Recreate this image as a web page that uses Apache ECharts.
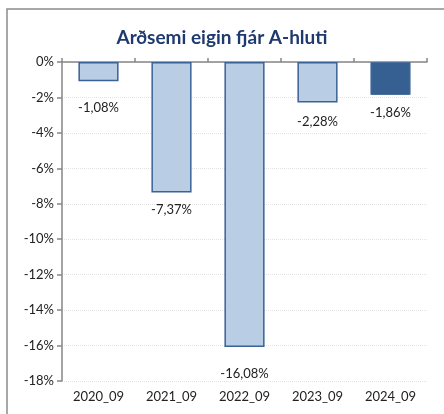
<!DOCTYPE html>
<html>
<head>
<meta charset="utf-8">
<script src="https://cdn.jsdelivr.net/npm/echarts@6/dist/echarts.min.js"></script>
<style>
  html, body { margin: 0; padding: 0; background: #fff; }
  #chart { width: 444px; height: 414px; }
</style>
</head>
<body>
<div id="chart"></div>
<script>
const categories = ["2020_09", "2021_09", "2022_09", "2023_09", "2024_09"];
const values = [-1.08, -7.37, -16.08, -2.28, -1.86];
const highlight = [false, false, false, false, true];
// per-bar gap between bar end and its value label, as placed in the original
const labelGap = [20, 11, 20, 13, 11];

const font = "Lato, 'Open Sans', sans-serif";

const chart = echarts.init(document.getElementById("chart"));
const option = {
  animation: false,
  textStyle: { fontFamily: font },
  title: {
    text: "Arðsemi eigin fjár A-hluti",
    left: "center",
    top: 23,
    textStyle: { color: "#1F3A6E", fontSize: 19, fontWeight: "bold", fontFamily: font },
  },
  graphic: [
    {
      type: "rect",
      shape: { x: 7, y: 9, width: 445, height: 420 },
      style: { fill: "none", stroke: "#8c8c8c", lineWidth: 1.5 },
      silent: true,
    },
  ],
  grid: { left: 62, right: 17, top: 62, bottom: 33 },
  xAxis: [
    {
      type: "category",
      data: categories,
      position: "bottom",
      axisLine: { show: false },
      axisTick: { show: false },
      axisLabel: { color: "#222", fontSize: 13, margin: 9 },
    },
    {
      type: "category",
      data: categories,
      position: "top",
      axisLine: { show: true, onZero: false, lineStyle: { color: "#868686", width: 1.5 } },
      axisTick: { show: true, length: 4, lineStyle: { color: "#868686", width: 1.5 } },
      axisLabel: { show: false },
    },
  ],
  yAxis: {
    type: "value",
    min: -18,
    max: 0,
    interval: 2,
    axisLine: { show: true, lineStyle: { color: "#868686", width: 1.5 } },
    axisTick: { show: true, length: 5, lineStyle: { color: "#868686", width: 1.5 } },
    axisLabel: { color: "#222", fontSize: 13, margin: 8, formatter: (v) => v + "%" },
    splitLine: { show: true, lineStyle: { color: "#e3e3e3", type: "dotted", width: 1 } },
  },
  series: [
    {
      type: "bar",
      barWidth: "55%",
      data: values.map((v, i) => ({
        value: v,
        label: { distance: labelGap[i] },
        itemStyle: highlight[i]
          ? { color: "#376092", borderColor: "#4a6f9c", borderWidth: 1 }
          : { color: "#B9CDE5", borderColor: "#3A6296", borderWidth: 1.5 },
      })),
      label: {
        show: true,
        position: "bottom",
        color: "#222",
        fontSize: 13,
        formatter: (p) => p.value.toFixed(2).replace(".", ",") + "%",
      },
    },
  ],
};
chart.setOption(option);
</script>
</body>
</html>
